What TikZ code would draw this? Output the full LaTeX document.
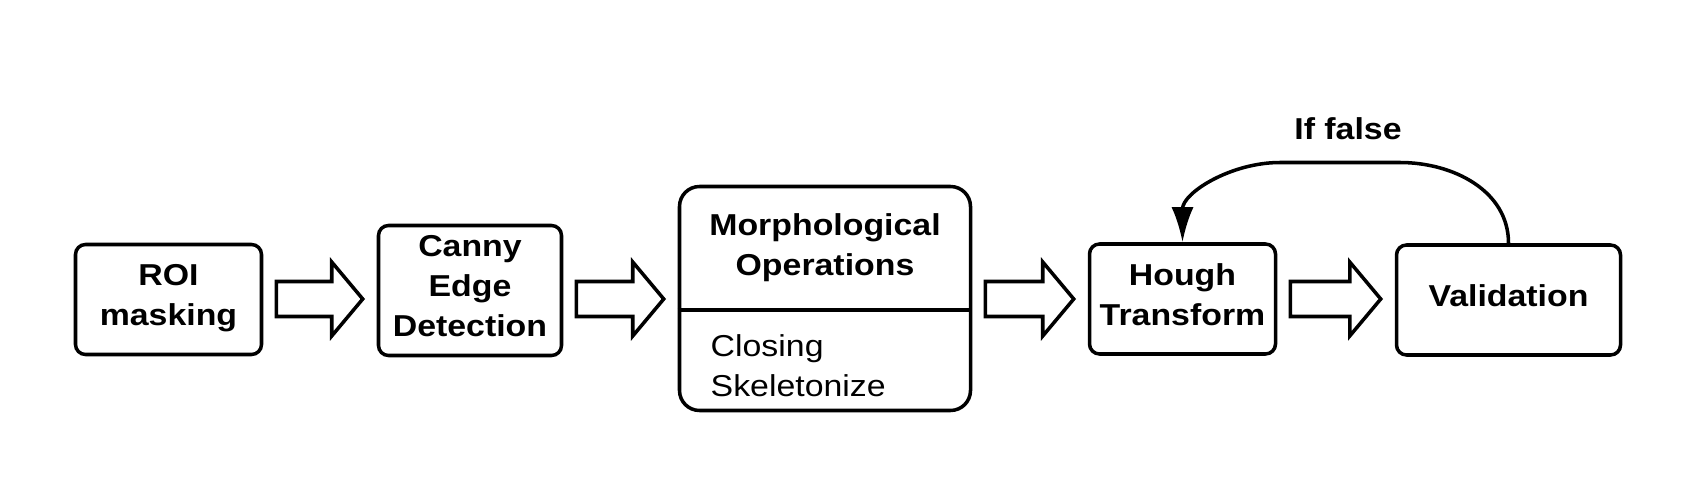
\documentclass[tikz,border=0pt]{standalone}
\usepackage{fontspec}
\setmainfont{Liberation Sans}[FakeStretch=1.12]
\usetikzlibrary{arrows.meta, positioning, calc}
\newcommand{\diafont}{\fontsize{8.6}{11.5}\selectfont}
\tikzset{
  box/.style={draw, line width=1pt, rounded corners=0.1cm, align=center, font=\diafont\bfseries, inner sep=0pt, text depth=0.09cm},
  fatarrow/.style={draw, line width=1pt, line join=miter},
  loopline/.style={line width=1pt, -{Latex[length=0.35cm,width=0.22cm]}}
}

\begin{document}
\begin{tikzpicture}
\useasboundingbox (0,0) rectangle (16.97,-4.88);
% Pipeline boxes
\node[box, minimum width=1.86cm, minimum height=1.10cm] (roi) at (1.685,-2.995) {ROI\\masking};
\node[box, minimum width=1.83cm, minimum height=1.30cm] (canny) at (4.70,-2.905) {Canny\\Edge\\Detection};
\node[box, rounded corners=0.2cm, minimum width=2.91cm, minimum height=2.24cm] (morph) at (8.25,-2.985) {};
\node[font=\diafont\bfseries, align=center, inner sep=0pt] (morphtitle) at (8.25,-2.475) {Morphological\\Operations};
\coordinate (split) at (8.25,-3.10);
\draw[line width=1pt] (morph.west |- split) -- (morph.east |- split);
\node[font=\diafont, align=left, anchor=west, inner sep=0pt] (morphsteps) at (7.10,-3.655) {Closing\\Skeletonize};
\node[box, minimum width=1.86cm, minimum height=1.10cm] (hough) at (11.825,-2.99) {Hough\\Transform};
\node[box, minimum width=2.24cm, minimum height=1.10cm] (valid) at (15.085,-3.00) {Validation};

% Block arrows between the steps
\coordinate (row) at (0,-2.99);
\foreach \a/\b in {roi/canny, canny/morph, morph/hough, hough/valid}
    \draw[fatarrow] ($(\a.east |- row)+(0.13,0.175)$) -- ($(\b.west |- row)+(-0.45,0.175)$) -- ++(0,0.195)
        -- ($(\b.west |- row)+(-0.14,0)$) -- ($(\b.west |- row)+(-0.45,-0.37)$) -- ++(0,0.195)
        -- ($(\a.east |- row)+(0.13,-0.175)$) -- cycle;

% Feedback loop
\coordinate (loopright) at (14.00,-1.625);
\coordinate (loopleft) at (12.80,-1.625);
\draw[loopline] (valid.north) to[out=90,in=0] (loopright) -- (loopleft) to[out=180,in=90] (hough.north);
\node[font=\diafont\bfseries, inner sep=0pt] (iffalse) at (13.48,-1.285) {If false};
\end{tikzpicture}
\end{document}
